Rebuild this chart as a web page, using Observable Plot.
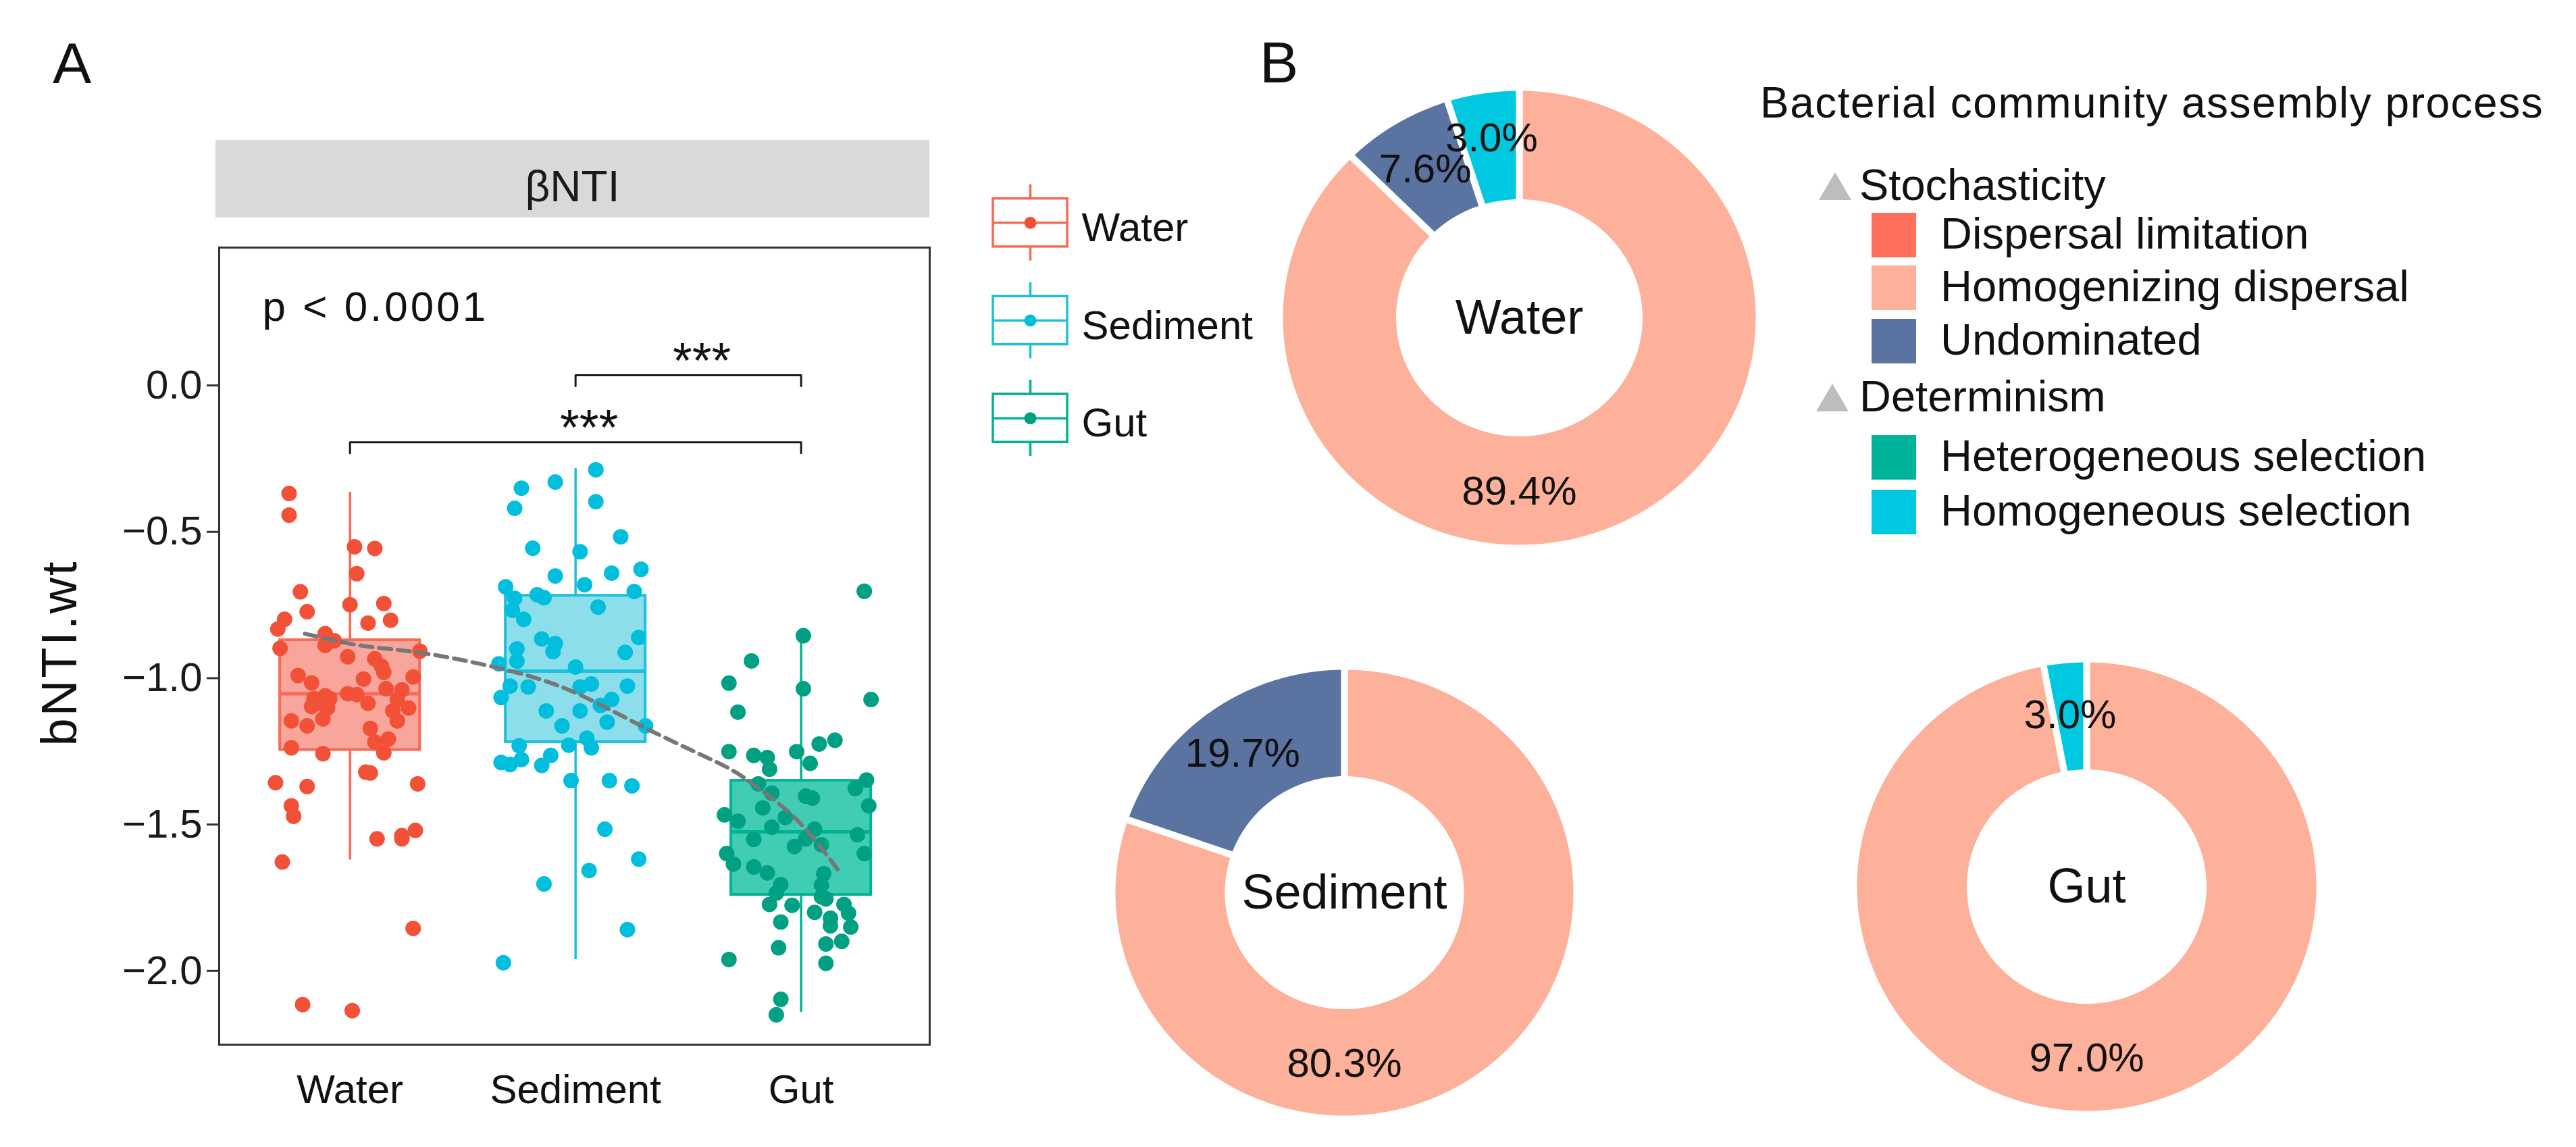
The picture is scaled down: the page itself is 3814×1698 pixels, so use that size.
<!DOCTYPE html>
<html><head><meta charset="utf-8">
<script src="https://cdn.jsdelivr.net/npm/d3@7"></script>
<script src="https://cdn.jsdelivr.net/npm/@observablehq/plot@0.6"></script>
<style>
body{margin:0;background:#fff;}
#page{position:relative;width:3814px;height:1698px;background:#fff;overflow:hidden;font-family:"Liberation Sans",Arial,sans-serif;}
.abs{position:absolute;}
</style></head><body><div id="page"></div>
<script>
// ---------------- Panel A data ----------------
const groups = ["Water", "Sediment", "Gut"];
const pointColors = ["#F25037", "#00BEDC", "#00A082"];
const boxStrokeColors = ["#F66A56", "#1BC0DE", "#00B394"];
const boxFillColors = ["#F8A59B", "#8CDEEB", "#40CDB4"];

const waterValues = [-0.551,-0.557,-0.643,-0.705,-0.749,-0.745,-0.773,-0.799,-0.832,-0.812,-0.802,-0.848,-0.872,-0.888,-0.898,-0.908,-0.927,-0.934,-0.960,-0.980,-0.991,-1.003,-0.996,-1.016,-1.040,-1.060,-1.070,-1.070,-1.053,-1.056,-1.036,-1.086,-1.097,-1.073,-1.102,-1.102,-1.086,-1.112,-1.139,-1.146,-1.163,-1.146,-1.172,-1.208,-1.218,-1.238,-1.258,-1.255,-1.357,-1.370,-1.321,-1.324,-1.361,-1.436,-1.472,-1.549,-1.538,-1.520,-1.549,-1.628,-1.855,-2.115,-2.136,-0.369,-0.443];
const waterJitter = [0.02,0.11,0.03,-0.22,0.00,0.15,-0.19,-0.29,-0.32,0.08,0.18,-0.11,-0.07,-0.11,-0.31,0.31,-0.01,0.11,0.14,0.15,-0.23,0.06,0.28,-0.17,0.23,-0.11,-0.09,-0.16,-0.01,0.03,0.16,-0.13,-0.17,0.21,0.26,-0.10,0.08,0.19,-0.12,-0.26,-0.19,0.21,0.09,0.17,0.11,-0.26,-0.12,0.15,-0.33,-0.19,0.07,0.09,0.30,-0.26,-0.25,0.12,0.23,0.29,0.23,-0.30,0.28,-0.21,0.01,-0.27,-0.27];

const sedimentValues = [-0.288,-0.351,-0.330,-0.420,-0.397,-0.517,-0.556,-0.568,-0.651,-0.641,-0.628,-0.681,-0.688,-0.704,-0.727,-0.715,-0.725,-0.757,-0.768,-0.799,-0.866,-0.909,-0.900,-0.912,-0.861,-0.951,-0.942,-0.962,-0.882,-1.027,-1.030,-1.027,-1.066,-1.030,-1.020,-1.073,-1.112,-1.112,-1.093,-1.163,-1.163,-1.150,-1.205,-1.231,-1.229,-1.238,-1.264,-1.298,-1.288,-1.295,-1.278,-1.350,-1.350,-1.368,-1.516,-1.618,-1.657,-1.703,-1.859,-1.972];
const sedimentJitter = [0.09,-0.24,-0.09,-0.27,0.09,0.20,-0.19,0.02,-0.09,0.16,0.29,0.04,-0.31,0.26,-0.27,-0.17,-0.14,0.10,-0.28,-0.23,-0.15,-0.10,-0.26,0.22,0.28,-0.34,-0.26,0.00,-0.09,0.23,-0.21,-0.29,-0.33,0.02,0.07,0.16,-0.13,0.02,0.11,0.31,-0.06,0.14,0.05,-0.25,-0.03,0.07,-0.11,-0.15,-0.33,-0.29,-0.24,-0.02,0.15,0.25,0.13,0.28,0.06,-0.14,0.23,-0.32];

const gutValues = [-0.703,-0.855,-0.941,-1.017,-1.036,-1.073,-1.116,-1.212,-1.225,-1.251,-1.251,-1.264,-1.271,-1.291,-1.311,-1.348,-1.361,-1.377,-1.393,-1.403,-1.410,-1.436,-1.443,-1.467,-1.476,-1.489,-1.509,-1.516,-1.535,-1.551,-1.549,-1.575,-1.569,-1.599,-1.599,-1.635,-1.645,-1.665,-1.668,-1.705,-1.707,-1.734,-1.747,-1.773,-1.776,-1.754,-1.773,-1.800,-1.803,-1.820,-1.833,-1.846,-1.850,-1.899,-1.908,-1.921,-1.961,-1.974,-2.097,-2.150];
const gutJitter = [0.28,0.01,-0.22,-0.32,0.01,0.31,-0.28,0.15,0.08,-0.32,-0.02,-0.21,-0.15,0.04,-0.14,0.29,-0.19,0.24,-0.13,0.02,0.05,0.30,-0.17,-0.34,-0.07,-0.28,-0.13,0.06,0.25,-0.21,0.02,-0.03,0.09,-0.33,0.28,-0.30,-0.21,-0.15,0.10,-0.09,0.09,-0.11,0.09,-0.14,-0.04,0.11,0.19,0.06,0.21,0.13,-0.09,0.13,0.22,0.18,0.11,-0.10,-0.32,0.11,-0.09,-0.11];

const boxQ1 = [-1.245, -1.218, -1.740];
const boxMedian = [-1.053, -0.976, -1.525];
const boxQ3 = [-0.870, -0.718, -1.350];
const whiskerLow = [-1.621, -1.961, -2.141];
const whiskerHigh = [-0.365, -0.284, -0.859];

const trendX = [0.80, 1.053, 1.32, 1.667, 1.988, 2.335, 2.655, 2.789, 2.976, 3.176];
const trendY = [-0.848, -0.889, -0.914, -0.967, -1.046, -1.18, -1.298, -1.364, -1.48, -1.668];

const yTicks = [0, -0.5, -1, -1.5, -2];
const pLabel = "p < 0.0001";
const bracketFrom = ["Sediment", "Water"];
const bracketTo = ["Gut", "Gut"];
const bracketY = [0.035, -0.194];
const bracketLabel = ["***", "***"];
const stripLabel = "βNTI";
const yLabel = "bNTI.wt";

// ---------------- Panel B data ----------------
const processes = ["Dispersal limitation", "Homogenizing dispersal", "Undominated", "Heterogeneous selection", "Homogeneous selection"];
const processColors = ["#FE6E5A", "#FDB09A", "#5B73A0", "#00B49C", "#00C8E0"];
const stochastic = ["Dispersal limitation", "Homogenizing dispersal", "Undominated"];
const deterministic = ["Heterogeneous selection", "Homogeneous selection"];
const legendTitle = "Bacterial community assembly process";
// clockwise slice order from 12 o'clock
const sliceOrder = ["Homogenizing dispersal", "Undominated", "Dispersal limitation", "Heterogeneous selection", "Homogeneous selection"];
// slice sizes as drawn (share of the ring, %), and the printed labels
const waterShares = [87.5, 7.6, 0, 0, 4.9];
const waterLabels = ["89.4%", "7.6%", "", "", "3.0%"];
const sedimentShares = [80.3, 19.7, 0, 0, 0];
const sedimentLabels = ["80.3%", "19.7%", "", "", ""];
const gutShares = [97.0, 0, 0, 0, 3.0];
const gutLabels = ["97.0%", "", "", "", "3.0%"];

// ---------------- helpers ----------------
const FONT = "'Liberation Sans', Arial, sans-serif";
const page = d3.select("#page");
function place(node, left, top) {
  const w = +node.getAttribute("width"), h = +node.getAttribute("height");
  const div = page.append("div").attr("class", "abs")
    .style("left", left + "px").style("top", top + "px")
    .style("width", w + "px").style("height", h + "px");
  div.node().appendChild(node);
  return div;
}
const baseStyle = {background: "transparent", maxWidth: "none", overflow: "visible", fontFamily: FONT};

// ---------------- Panel A ----------------
const jitters = [waterJitter, sedimentJitter, gutJitter];
const pts = [];
[waterValues, sedimentValues, gutValues].forEach((vals, g) =>
  vals.forEach((v, k) => pts.push({group: groups[g], pos: g + 1 + jitters[g][k], value: v})));
const boxes = groups.map((g, i) => ({group: g, pos: i + 1, q1: boxQ1[i], med: boxMedian[i], q3: boxQ3[i], lo: whiskerLow[i], hi: whiskerHigh[i]}));
const halfW = 0.31;
const trend = trendX.map((x, i) => ({x, y: trendY[i]}));
const brackets = bracketFrom.map((f, i) => ({
  id: i, x1: groups.indexOf(f) + 1, x2: groups.indexOf(bracketTo[i]) + 1, y: bracketY[i], label: bracketLabel[i]
}));
const tip = 0.037;
const bracketPts = brackets.flatMap(b => [
  {id: b.id, x: b.x1, y: b.y - tip}, {id: b.id, x: b.x1, y: b.y},
  {id: b.id, x: b.x2, y: b.y}, {id: b.id, x: b.x2, y: b.y - tip}]);

const boxMarks = [];
boxes.forEach((b, i) => {
  boxMarks.push(Plot.rect([b], {x1: d => d.pos - halfW, x2: d => d.pos + halfW, y1: "q1", y2: "q3", fill: boxFillColors[i], stroke: boxStrokeColors[i], strokeWidth: 4}));
  boxMarks.push(Plot.ruleX([b], {x: "pos", y1: "q3", y2: "hi", stroke: boxStrokeColors[i], strokeWidth: 3.5}));
  boxMarks.push(Plot.ruleX([b], {x: "pos", y1: "lo", y2: "q1", stroke: boxStrokeColors[i], strokeWidth: 3.5}));
  boxMarks.push(Plot.ruleY([b], {y: "med", x1: d => d.pos - halfW, x2: d => d.pos + halfW, stroke: boxStrokeColors[i], strokeWidth: 5}));
});

const plotA = Plot.plot({
  width: 1400, height: 1698,
  marginLeft: 324, marginRight: 24, marginTop: 366, marginBottom: 152,
  x: {domain: [0.42, 3.57], axis: null},
  y: {domain: [-2.252, 0.471], axis: null},
  color: {domain: groups, range: pointColors},
  style: baseStyle,
  marks: [
    ...boxMarks,
    Plot.dot(pts, {x: "pos", y: "value", fill: "group", r: 11.5}),
    Plot.line(trend, {x: "x", y: "y", curve: "natural", stroke: "#777", strokeWidth: 6, strokeDasharray: "18,10"}),
    Plot.line(bracketPts, {x: "x", y: "y", z: "id", stroke: "#1a1a1a", strokeWidth: 3}),
    Plot.text(brackets, {x: d => (d.x1 + d.x2) / 2, y: "y", text: "label", fontSize: 74, dx: 20, dy: -20, fill: "#111"}),
    Plot.text([pLabel], {frameAnchor: "top-left", dx: 64, dy: 64, lineAnchor: "top", textAnchor: "start", fontSize: 62, fill: "#111"}),
    Plot.text([yLabel], {frameAnchor: "left", dx: -235, dy: 10, rotate: -90, textAnchor: "middle", lineAnchor: "middle", fontSize: 74, fill: "#111"}),
    Plot.axisY({ticks: yTicks, tickFormat: d3.format(".1f"), tickSize: 18, tickPadding: 7, fontSize: 60, strokeWidth: 3, stroke: "#333", fill: "#1a1a1a", label: null}),
    Plot.axisX({ticks: [1, 2, 3], tickFormat: i => groups[i - 1], tickSize: 0, tickPadding: 44, fontSize: 60, fill: "#111", label: null}),
    Plot.frame({stroke: "#333", strokeWidth: 3})
  ]
});
d3.select(plotA).selectAll("text").filter(function () { return this.textContent === pLabel; }).attr("letter-spacing", "4px");
d3.select(plotA).selectAll("text").filter(function () { return this.textContent === yLabel; }).attr("letter-spacing", "3px");
place(plotA, 0, 0);

// Legend A (box keys)
const legendRows = groups.map((g, i) => ({group: g, i}));
const legMarks = [];
legendRows.forEach((r, i) => {
  legMarks.push(Plot.rect([r], {x1: 0, x2: 1, y1: d => d.i - 0.246, y2: d => d.i + 0.246, fill: "white", stroke: boxStrokeColors[i], strokeWidth: 3.5}));
  legMarks.push(Plot.ruleX([r], {x: 0.5, y1: d => d.i - 0.246, y2: d => d.i - 0.39, stroke: boxStrokeColors[i], strokeWidth: 3.5}));
  legMarks.push(Plot.ruleX([r], {x: 0.5, y1: d => d.i + 0.246, y2: d => d.i + 0.39, stroke: boxStrokeColors[i], strokeWidth: 3.5}));
  legMarks.push(Plot.ruleY([r], {y: "i", x1: 0, x2: 1, stroke: boxStrokeColors[i], strokeWidth: 3.5}));
});
const legendA = Plot.plot({
  width: 412, height: 434, marginLeft: 2, marginRight: 300, marginTop: 0, marginBottom: 0,
  x: {domain: [0, 1], axis: null},
  y: {domain: [-0.5, 2.5], reverse: true, axis: null},
  color: {domain: groups, range: pointColors},
  style: baseStyle,
  marks: [
    ...legMarks,
    Plot.dot(legendRows, {x: 0.5, y: "i", fill: "group", r: 9}),
    Plot.text(legendRows, {x: 1, y: "i", text: "group", dx: 21, dy: 8, textAnchor: "start", fontSize: 60, fill: "#111"})
  ]
});
place(legendA, 1468, 257);

// ---------------- Panel B donuts ----------------
function donut(name, shares, texts, rx, ry) {
  const pad = 24, inner = 0.5, labelR = 0.755, lineH = 46, labelW = 170;
  const total = d3.sum(shares), maxShare = d3.max(shares);
  const ring = [], labels = [];
  let acc = 0;
  sliceOrder.forEach((p, k) => {
    const s = shares[k];
    if (!s) return;
    const a0 = acc / total * 2 * Math.PI, a1 = (acc + s) / total * 2 * Math.PI;
    acc += s;
    const n = Math.max(2, Math.ceil((a1 - a0) / (Math.PI / 180)));
    const poly = [];
    for (let j = 0; j <= n; j++) { const a = a0 + (a1 - a0) * j / n; poly.push([Math.sin(a), Math.cos(a)]); }
    for (let j = n; j >= 0; j--) { const a = a0 + (a1 - a0) * j / n; poly.push([inner * Math.sin(a), inner * Math.cos(a)]); }
    poly.push(poly[0]);
    poly.forEach(([x, y]) => ring.push({slice: p, process: p, x, y}));
    const am = s === maxShare ? Math.PI : (a0 + a1) / 2;
    labels.push({x: labelR * Math.sin(am), y: labelR * Math.cos(am), text: texts[k]});
  });
  // nudge colliding labels apart vertically (the higher one moves up)
  for (let i = 0; i < labels.length; i++) for (let j = i + 1; j < labels.length; j++) {
    const a = labels[i], b = labels[j];
    const dxp = Math.abs((a.x - b.x) * rx), dyp = Math.abs((a.y - b.y) * ry);
    if (dxp < labelW && dyp < lineH) {
      const up = a.y > b.y ? a : b;
      up.y += (lineH - dyp) / ry;
    }
  }
  return Plot.plot({
    width: 2 * rx + 2 * pad, height: 2 * ry + 2 * pad, margin: 0,
    x: {domain: [-(rx + pad) / rx, (rx + pad) / rx], axis: null},
    y: {domain: [-(ry + pad) / ry, (ry + pad) / ry], axis: null},
    color: {domain: processes, range: processColors},
    style: baseStyle,
    marks: [
      Plot.line(ring, {x: "x", y: "y", z: "slice", fill: "process", stroke: "white", strokeWidth: 10, strokeLinejoin: "round"}),
      Plot.text(labels, {x: "x", y: "y", text: "text", fontSize: 60, fill: "#111"}),
      Plot.text([name], {x: 0, y: 0, text: d => d, fontSize: 72, fill: "#111"})
    ]
  });
}
const donutLayout = [
  {name: "Water", shares: waterShares, texts: waterLabels, cx: 2249, cy: 470, rx: 355, ry: 341},
  {name: "Sediment", shares: sedimentShares, texts: sedimentLabels, cx: 1990, cy: 1321, rx: 344, ry: 335},
  {name: "Gut", shares: gutShares, texts: gutLabels, cx: 3089, cy: 1312, rx: 345, ry: 337}
];
donutLayout.forEach(d => {
  const svg = donut(d.name, d.shares, d.texts, d.rx, d.ry);
  place(svg, d.cx - d.rx - 24, d.cy - d.ry - 24);
});

// ---------------- overlay: panel letters, strip, legend B ----------------
const ov = page.append("svg").attr("class", "abs").style("left", "0px").style("top", "0px")
  .attr("width", 3814).attr("height", 1698).style("pointer-events", "none").style("font-family", FONT);
ov.append("text").attr("x", 78).attr("y", 123).attr("font-size", 86).attr("fill", "#111").text("A");
ov.append("text").attr("x", 1865).attr("y", 122).attr("font-size", 86).attr("fill", "#111").text("B");
ov.append("rect").attr("x", 319).attr("y", 207).attr("width", 1057).attr("height", 115).attr("fill", "#D9D9D9");
ov.append("text").attr("x", 847.5).attr("y", 298).attr("font-size", 64).attr("text-anchor", "middle").attr("fill", "#1a1a1a").text(stripLabel);

const colorOf = p => processColors[processes.indexOf(p)];
ov.append("text").attr("x", 2606).attr("y", 174).attr("font-size", 64).attr("letter-spacing", "1.5px").attr("fill", "#111").text(legendTitle);
function heading(label, baseline, tx) {
  ov.append("polygon").attr("points", `${tx - 24},${baseline} ${tx + 24},${baseline} ${tx},${baseline - 41}`).attr("fill", "#BDBDBD");
  ov.append("text").attr("x", 2753).attr("y", baseline).attr("font-size", 65).attr("fill", "#111").text(label);
}
function item(label, baseline) {
  ov.append("rect").attr("x", 2771).attr("y", baseline - 53).attr("width", 66).attr("height", 66).attr("fill", colorOf(label));
  ov.append("text").attr("x", 2873).attr("y", baseline).attr("font-size", 65).attr("fill", "#111").text(label);
}
heading("Stochasticity", 296, 2717);
[368, 446, 525].forEach((b, i) => item(stochastic[i], b));
heading("Determinism", 609, 2713);
[697, 778].forEach((b, i) => item(deterministic[i], b));
</script></body></html>
